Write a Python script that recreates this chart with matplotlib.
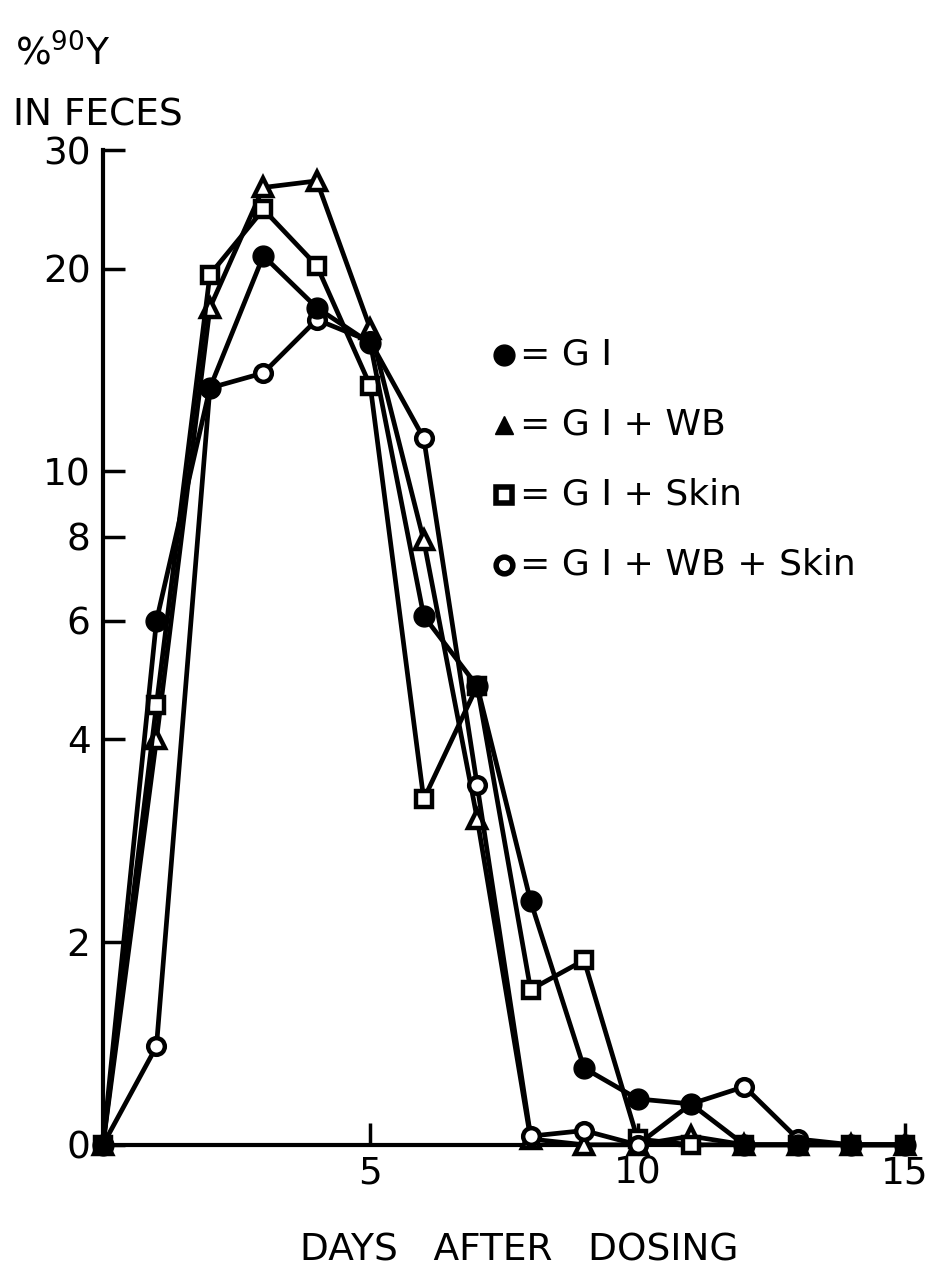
import numpy as np
import matplotlib
matplotlib.use("Agg")
import matplotlib.pyplot as plt

# days after dosing
days = np.arange(0, 16)

# % 90Y in feces (0 = below the plotted floor)
gi = [0, 6.0, 13.3, 20.9, 17.5, 15.5, 6.1, 4.8, 2.3, 1.3, 1.17, 1.15, 0, 0, 0, 0]
gi_wb = [0, 4.0, 17.5, 26.4, 27.0, 16.3, 7.9, 3.05, 1.02, 1.0, 1.0, 1.03, 1.0, 1.0, 1.0, 0]
gi_skin = [0, 4.5, 19.6, 24.5, 20.2, 13.4, 3.26, 4.8, 1.7, 1.88, 1.02, 1.0, 1.0, 1.0, 1.0, 0]
gi_wb_skin = [0, 1.4, 13.3, 14.0, 16.8, 15.6, 11.2, 3.42, 1.03, 1.05, 1.0, 1.15, 1.22, 1.02, 1.0, 0]

legend_labels = ["= G I", "= G I + WB", "= G I + Skin", "= G I + WB + Skin"]
ytick_vals = [1, 2, 4, 6, 8, 10, 20, 30]
ytick_labels = ["0", "2", "4", "6", "8", "10", "20", "30"]
xtick_vals = [0, 5, 10, 15]
xtick_labels = ["", "5", "10", "15"]  # origin shares the y-axis "0"

FLOOR = 1.0  # bottom of the log axis, labelled "0"

plt.rcParams['font.family'] = ['DejaVu Sans']

fig = plt.figure(figsize=(9.28, 12.72), dpi=100)
ax = fig.add_axes([0.111, 0.100, 0.864, 0.782])
ax.set_yscale('log')

def floored(v):
    return np.clip(np.array(v, dtype=float), FLOOR, None)

lw = 3.4
ax.plot(days, floored(gi_wb), color='black', lw=lw, marker='^', ms=13,
        mfc='white', mec='black', mew=3.2, clip_on=False, zorder=3)
ax.plot(days, floored(gi_skin), color='black', lw=lw, marker='s', ms=12,
        mfc='white', mec='black', mew=3.2, clip_on=False, zorder=3)
ax.plot(days, floored(gi_wb_skin), color='black', lw=lw, marker='o', ms=12,
        mfc='white', mec='black', mew=3.2, clip_on=False, zorder=3)
ax.plot(days, floored(gi), color='black', lw=lw, marker='o', ms=15,
        mfc='black', mec='black', clip_on=False, zorder=4)

ax.set_xlim(0, 15)
ax.set_ylim(FLOOR, 30)

ax.set_yticks(ytick_vals)
ax.set_yticklabels(ytick_labels)
ax.yaxis.set_minor_locator(matplotlib.ticker.NullLocator())
ax.set_xticks(xtick_vals)
ax.set_xticklabels(xtick_labels)

for s in ['top', 'right']:
    ax.spines[s].set_visible(False)
for s in ['left', 'bottom']:
    ax.spines[s].set_linewidth(3)
ax.tick_params(axis='both', direction='in', length=16, width=2.5,
               labelsize=27, pad=8)
ax.tick_params(axis='y', pad=9)

# axis titles
fig.text(0.016, 0.958, "%$^{90}$Y", fontsize=27, ha='left', va='center')
fig.text(0.014, 0.909, "IN FECES", fontsize=27, ha='left', va='center')
fig.text(0.56, 0.017, "DAYS   AFTER   DOSING", fontsize=27, ha='center', va='center')

# legend drawn as text rows
markers = [dict(marker='o', ms=15, mfc='black', mec='black'),
           dict(marker='^', ms=13, mfc='black', mec='black'),
           dict(marker='s', ms=12, mfc='white', mec='black', mew=4),
           dict(marker='o', ms=12, mfc='white', mec='black', mew=4)]
rows_y = [0.721, 0.666, 0.611, 0.556]
for lab, mk, yy in zip(legend_labels, markers, rows_y):
    fig.lines.append(matplotlib.lines.Line2D([0.543], [yy], transform=fig.transFigure,
                                             linestyle='none', **mk))
    fig.text(0.560, yy, lab, fontsize=26, ha='left', va='center')

fig.savefig("out.png", dpi=100)
